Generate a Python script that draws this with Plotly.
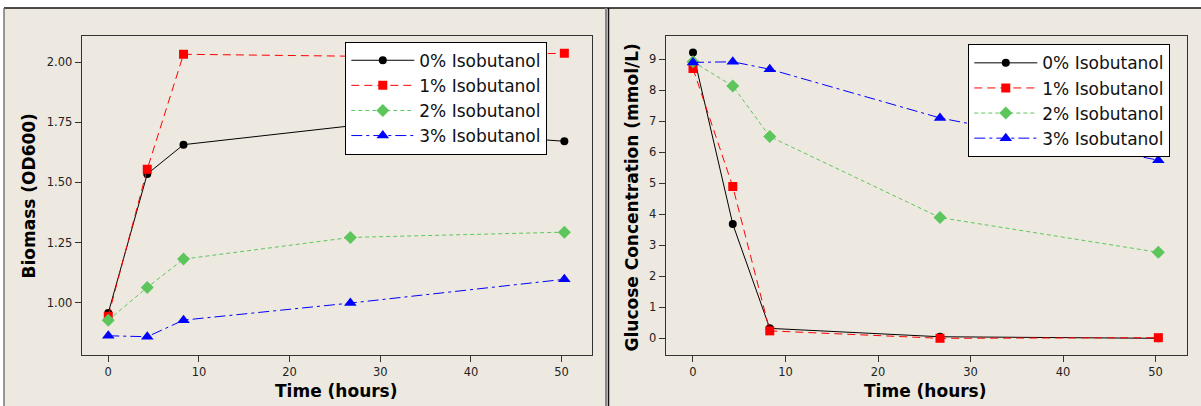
import plotly.graph_objects as go

W, H = 1201, 406

# ---- data ----
time_h = [0, 4.3, 8.3, 26.7, 50.3]
series_names = ["0% Isobutanol", "1% Isobutanol", "2% Isobutanol", "3% Isobutanol"]

biomass_0 = [0.957, 1.535, 1.657, 1.735, 1.671]
biomass_1 = [0.943, 1.555, 2.033, 2.025, 2.037]
biomass_2 = [0.927, 1.063, 1.181, 1.271, 1.293]
biomass_3 = [0.862, 0.858, 0.927, 0.998, 1.097]

glucose_0 = [9.21, 3.68, 0.32, 0.05, 0.0]
glucose_1 = [8.69, 4.89, 0.24, 0.0, 0.02]
glucose_2 = [8.91, 8.13, 6.50, 3.89, 2.77]
glucose_3 = [8.89, 8.91, 8.67, 7.10, 5.74]

biomass_ticks = [1.00, 1.25, 1.50, 1.75, 2.00]
glucose_ticks = list(range(0, 10))
time_ticks = [0, 10, 20, 30, 40, 50]

# ---- styles ----
styles = [
    dict(color="#000000", dash="solid", symbol="circle", size=8),
    dict(color="#FF0000", dash="8px,5px", symbol="square", size=9),
    dict(color="#5CC65C", dash="4px,3px", symbol="diamond", size=10),
    dict(color="#0000FF", dash="11px,4px,3px,4px", symbol="triangle-up", size=11),
]

FONT = "DejaVu Sans"
BG = "#EDE9E0"

def px_x(p):
    return p / W

def px_y(p):
    return 1 - p / H

fig = go.Figure()

biomass = [biomass_0, biomass_1, biomass_2, biomass_3]
glucose = [glucose_0, glucose_1, glucose_2, glucose_3]

for i, (name, st) in enumerate(zip(series_names, styles)):
    fig.add_trace(go.Scatter(
        x=time_h, y=biomass[i], name=name, mode="lines+markers",
        line=dict(color=st["color"], width=1, dash=st["dash"]),
        marker=dict(color=st["color"], symbol=st["symbol"], size=st["size"]),
        xaxis="x", yaxis="y", legend="legend",
    ))
for i, (name, st) in enumerate(zip(series_names, styles)):
    fig.add_trace(go.Scatter(
        x=time_h, y=glucose[i], name=name, mode="lines+markers",
        line=dict(color=st["color"], width=1, dash=st["dash"]),
        marker=dict(color=st["color"], symbol=st["symbol"], size=st["size"]),
        xaxis="x2", yaxis="y2", legend="legend2",
    ))

axis_common = dict(
    showline=True, linecolor="#333333", linewidth=1, mirror=True,
    ticks="outside", ticklen=6, tickwidth=1, tickcolor="#333333",
    showgrid=False, zeroline=False,
    tickfont=dict(family=FONT, size=11.5, color="#222222"),
)

left_dom = [px_x(81.7), px_x(592)]
right_dom = [px_x(665.7), px_x(1187)]
y_dom = [px_y(355), px_y(36)]

legend_common = dict(
    xanchor="left", yanchor="top",
    bgcolor="#FFFFFF", bordercolor="#000000", borderwidth=1,
    font=dict(family=FONT, size=17, color="#111111"), itemwidth=63,
    tracegroupgap=0,
)

fig.update_layout(
    width=W, height=H,
    margin=dict(l=0, r=0, t=0, b=0),
    paper_bgcolor="#FFFFFF",
    plot_bgcolor="#FFFFFF",
    xaxis=dict(domain=left_dom, range=[-2.93, 53.35], tickvals=time_ticks, anchor="y", **axis_common),
    yaxis=dict(domain=y_dom, range=[0.782, 2.109], tickvals=biomass_ticks, tickformat=".2f", anchor="x", **axis_common),
    xaxis2=dict(domain=right_dom, range=[-2.95, 53.4], tickvals=time_ticks, anchor="y2", **axis_common),
    yaxis2=dict(domain=y_dom, range=[-0.538, 9.741], tickvals=glucose_ticks, anchor="x2", **axis_common),
    legend=dict(x=px_x(345.3), y=px_y(41.7), **legend_common),
    legend2=dict(x=px_x(968.3), y=px_y(44.3), **legend_common),
    showlegend=True,
)

# background panels and frame lines
shapes = [
    dict(type="rect", xref="paper", yref="paper", x0=px_x(4), x1=1, y0=0, y1=px_y(8),
         fillcolor=BG, line=dict(width=0), layer="below"),
    dict(type="line", xref="paper", yref="paper", x0=px_x(4), x1=1, y0=px_y(8), y1=px_y(8),
         line=dict(color="#111111", width=1.5)),
    dict(type="line", xref="paper", yref="paper", x0=px_x(4), x1=px_x(4), y0=0, y1=px_y(8),
         line=dict(color="#777777", width=1.5)),
    dict(type="line", xref="paper", yref="paper", x0=px_x(606), x1=px_x(606), y0=0, y1=px_y(8),
         line=dict(color="#888888", width=2)),
    dict(type="line", xref="paper", yref="paper", x0=px_x(608.5), x1=px_x(608.5), y0=0, y1=px_y(8),
         line=dict(color="#111111", width=1.5)),
]
fig.update_layout(shapes=shapes)

title_font = dict(family=FONT, size=17, color="#000000")
annotations = [
    dict(text="<b>Time (hours)</b>", xref="paper", yref="paper", x=px_x(336), y=px_y(390.5),
         showarrow=False, xanchor="center", yanchor="middle", font=title_font),
    dict(text="<b>Time (hours)</b>", xref="paper", yref="paper", x=px_x(925), y=px_y(390.5),
         showarrow=False, xanchor="center", yanchor="middle", font=title_font),
    dict(text="<b>Biomass (OD600)</b>", xref="paper", yref="paper", x=px_x(28.5), y=px_y(196),
         showarrow=False, xanchor="center", yanchor="middle", textangle=-90, font=title_font),
    dict(text="<b>Glucose Concentration (mmol/L)</b>", xref="paper", yref="paper", x=px_x(632), y=px_y(197.5),
         showarrow=False, xanchor="center", yanchor="middle", textangle=-90, font=title_font),
]
fig.update_layout(annotations=annotations)

fig.write_html("out.html")
